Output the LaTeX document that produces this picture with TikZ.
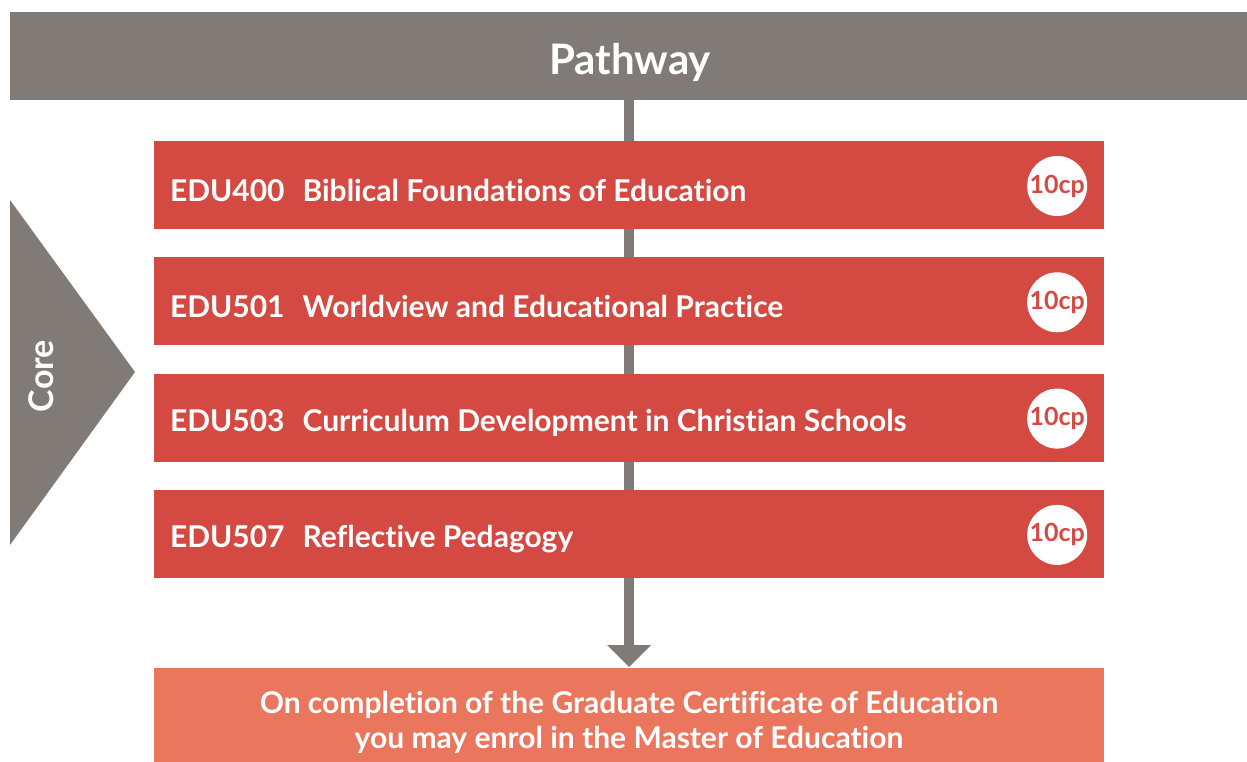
\documentclass[tikz,border=0pt]{standalone}
\usepackage{fontspec}
\setmainfont{Lato}[Ligatures=NoCommon]
\usetikzlibrary{positioning}
\begin{document}
\begin{tikzpicture}[x=1pt,y=-1pt,line width=0.35pt]
  \definecolor{pathgrey}{HTML}{807B77}
  \definecolor{unitred}{HTML}{D44A42}
  \definecolor{nextorange}{HTML}{EA765E}
  \tikzset{
    unitbox/.style={fill=unitred,minimum width=950pt,minimum height=88pt,
      inner sep=0pt},
    unitlabel/.style={anchor=west,text=white,inner sep=0pt,
      font=\fontsize{30}{36}\selectfont\bfseries},
    cpbadge/.style={circle,fill=white,minimum size=60pt,inner sep=0pt,
      text=unitred,font=\fontsize{25}{30}\selectfont\bfseries}
  }
  \useasboundingbox (0,0) rectangle (1247,762);
  % header bar
  \fill[pathgrey] (10,12) rectangle (1247,100);
  \node[text=white,font=\fontsize{42}{48}\selectfont\bfseries] (head) at (630,62) {Pathway};
  % spine
  \fill[pathgrey] (624,100) rectangle (634,646);
  \fill[pathgrey] (607,645) -- (651,645) -- (629,667) -- cycle;
  % units
  \foreach \i/\code/\title in {0/EDU400/Biblical Foundations of Education,
                               1/EDU501/Worldview and Educational Practice,
                               2/EDU503/Curriculum Development in Christian Schools,
                               3/EDU507/Reflective Pedagogy} {
    \pgfmathsetmacro{\y}{185+\i*116.3}
    \node[unitbox] (unit\i) at (629,\y) {};
    \node[unitlabel] (lab\i) at ([xshift=16pt,yshift=-5pt]unit\i.west)
      {\code\hspace{0.6em}\title};
    \node[cpbadge] (cp\i) at ([xshift=-47pt,yshift=-1pt]unit\i.east) {10cp};
  }
  % core marker
  \fill[pathgrey] (10,200) -- (135,372) -- (10,545) -- cycle;
  \node[rotate=90,text=white,font=\fontsize{34}{40}\selectfont\bfseries] (core) at (41,376) {Core};
  % outcome
  \fill[nextorange] (154,668) rectangle (1104,762);
  \node[text=white,align=center,font=\fontsize{30}{35}\selectfont\bfseries]
    (next) at (629,722) {On completion of the Graduate Certificate of Education\\
                         you may enrol in the Master of Education};
\end{tikzpicture}
\end{document}
